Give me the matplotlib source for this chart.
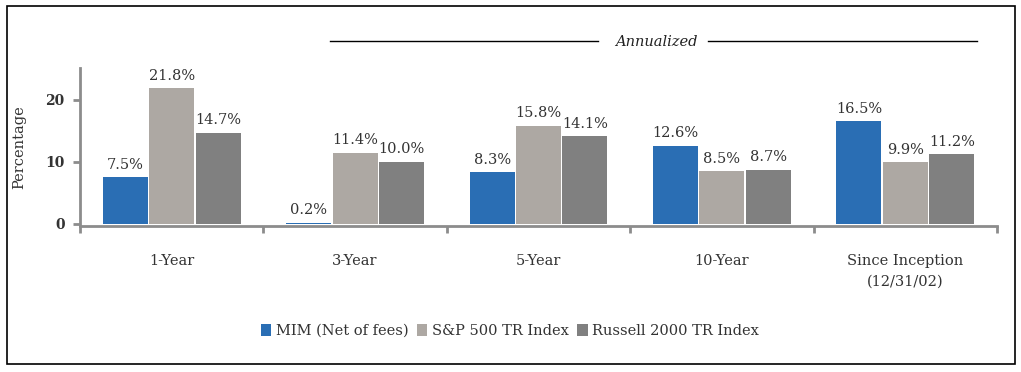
import numpy as np
import matplotlib
matplotlib.use('Agg')
import matplotlib.pyplot as plt
from matplotlib.patches import Rectangle
from matplotlib.lines import Line2D

plt.rcParams['font.family'] = ['DejaVu Serif', 'Liberation Serif']

# Data
categories = ['1-Year', '3-Year', '5-Year', '10-Year', 'Since Inception\n(12/31/02)']
series_names = ['MIM (Net of fees)', 'S&P 500 TR Index', 'Russell 2000 TR Index']
mim = [7.5, 0.2, 8.3, 12.6, 16.5]
sp500 = [21.8, 11.4, 15.8, 8.5, 9.9]
russell = [14.7, 10.0, 14.1, 8.7, 11.2]
yticks = [0, 10, 20]

colors = ['#2A6EB4', '#ADA8A3', '#808080']
axis_grey = '#8C8C8C'
text_col = '#333333'

W, H = 1021, 372
fig = plt.figure(figsize=(W / 100, H / 100), dpi=100)
ax = fig.add_axes([80 / W, 1 - 226 / H, 917 / W, 158 / H])

x = np.arange(len(categories))
bw = 0.245
step = 0.253
for k, (vals, c) in enumerate(zip([mim, sp500, russell], colors)):
    bars = ax.bar(x + (k - 1) * step, vals, width=bw, color=c,
                  label=series_names[k], zorder=2)
    for b, v in zip(bars, vals):
        ax.annotate(f'{v:.1f}%', (b.get_x() + b.get_width() / 2, v),
                    xytext=(0, 4), textcoords='offset points',
                    ha='center', va='bottom', fontsize=10.5, color=text_col)

ax.set_xlim(-0.5, len(categories) - 0.5)
ax.set_ylim(-0.35, 25.1)
for s in ['top', 'right']:
    ax.spines[s].set_visible(False)
for s in ['left', 'bottom']:
    ax.spines[s].set_color(axis_grey)
    ax.spines[s].set_linewidth(2)
    ax.spines[s].set_zorder(1)

ax.set_yticks(yticks)
ax.set_yticklabels([str(t) for t in yticks], fontsize=10, fontweight='bold', color=text_col)
ax.tick_params(axis='y', length=5, width=2, color=axis_grey, pad=6)

ax.set_xticks(np.arange(-0.5, len(categories), 1.0))
ax.set_xticklabels([])
ax.tick_params(axis='x', which='major', direction='out', length=5, width=2, color=axis_grey)
ax.set_xticks(x, minor=True)
ax.set_xticklabels(categories, minor=True, fontsize=10.5, color=text_col,
                   linespacing=1.6)
ax.tick_params(axis='x', which='minor', length=0, pad=20)

ax.set_ylabel('Percentage', fontsize=10.5, labelpad=14, color=text_col)

# "Annualized" bracket line
fig.add_artist(Line2D([330 / W, 598 / W], [1 - 41 / H] * 2, color='black', lw=1))
fig.add_artist(Line2D([708 / W, 977 / W], [1 - 41 / H] * 2, color='black', lw=1))
fig.text(656 / W, 1 - 42 / H, 'Annualized', ha='center', va='center',
         fontsize=10.5, style='italic', color='#222222')

ax.legend(loc='center', bbox_to_anchor=(510 / W, 1 - 331 / H),
          bbox_transform=fig.transFigure, ncol=3, frameon=False,
          fontsize=10.5, handlelength=0.7, handleheight=0.9,
          handletextpad=0.3, columnspacing=0.6, labelcolor=text_col)

# outer border
fig.add_artist(Rectangle((7 / W, 1 - 364 / H), 1008 / W, 358 / H,
                         transform=fig.transFigure, fill=False,
                         edgecolor='black', lw=1.2))

fig.savefig('out.png', dpi=100)
